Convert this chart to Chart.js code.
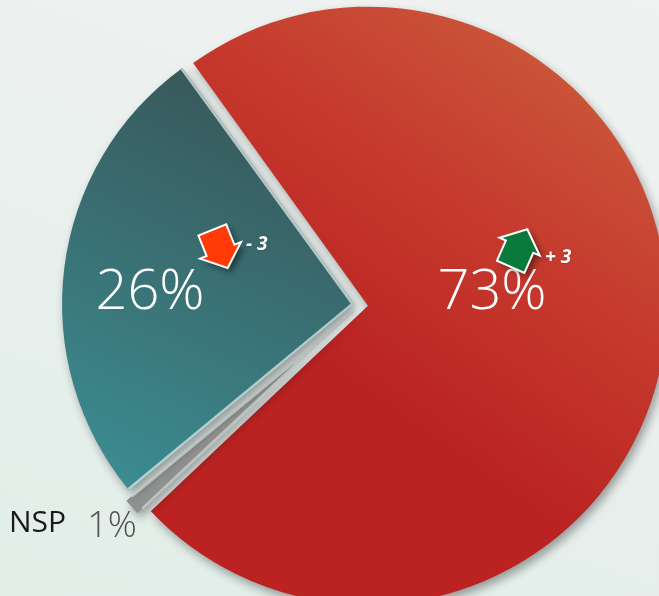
<!DOCTYPE html>
<html>
<head>
<meta charset="utf-8">
<script src="https://cdn.jsdelivr.net/npm/chart.js@4"></script>
<style>
html, body { margin: 0; padding: 0; width: 659px; height: 596px; overflow: hidden; }
body { background: linear-gradient(200deg, #f0f2f1 0%, #eaf0ee 45%, #e1eee8 100%); }
#wrap { position: relative; width: 659px; height: 596px; }
</style>
</head>
<body>
<div id="wrap"><canvas id="pie"></canvas></div>
<script>
// Data (clockwise from the top-left edge of the red slice)
const categories = ['Oui', 'NSP', 'Non'];
const shares = [73, 1, 26];
const changes = [3, 0, -3];

// Label / arrow anchors, relative to the pie centre
const labelAnchors = [
    { dx: 131, dy: -12, size: 56, color: '#ffffff' },
    { dx: -249, dy: 222, size: 36, color: '#505050' },
    { dx: -211, dy: -12, size: 56, color: '#ffffff' }
];
const arrowAnchors = [
    { dx: 158, dy: -57, rot: 24, color: '#0a7a3c', tx: 184, ty: -42 },
    null,
    { dx: -141, dy: -56, rot: 158, color: '#ff3a06', tx: -115, ty: -55 }
];

function sliceFill(context) {
    const ctx = context.chart.ctx;
    const i = context.dataIndex;
    if (i === 0) {
        const g = ctx.createLinearGradient(620, 60, 380, 400);
        g.addColorStop(0, '#cb5b3b');
        g.addColorStop(0.5, '#c63b2e');
        g.addColorStop(1, '#ba2322');
        return g;
    }
    if (i === 2) {
        const g = ctx.createLinearGradient(300, 80, 110, 470);
        g.addColorStop(0, '#385456');
        g.addColorStop(1, '#3b8b90');
        return g;
    }
    return '#8f9090';
}

function drawArrow(ctx, x, y, rot, color) {
    ctx.save();
    ctx.translate(x, y);
    ctx.rotate(rot * Math.PI / 180);
    ctx.beginPath();
    ctx.moveTo(0, -20.5);
    ctx.lineTo(22, -1.5);
    ctx.lineTo(15, -1.5);
    ctx.lineTo(15, 20.5);
    ctx.lineTo(-15, 20.5);
    ctx.lineTo(-15, -1.5);
    ctx.lineTo(-22, -1.5);
    ctx.closePath();
    ctx.shadowColor = 'rgba(0, 0, 0, 0.45)';
    ctx.shadowBlur = 6;
    ctx.shadowOffsetX = 4;
    ctx.shadowOffsetY = 4;
    ctx.fillStyle = color;
    ctx.fill();
    ctx.shadowColor = 'transparent';
    ctx.lineWidth = 2;
    ctx.strokeStyle = '#ffffff';
    ctx.stroke();
    ctx.restore();
}

// light bevel along the straight edges of a slice
function bevelEdges(ctx, arc, color) {
    const p = arc.getProps(['x', 'y', 'startAngle', 'endAngle', 'outerRadius']);
    const mid = (p.startAngle + p.endAngle) / 2;
    const off = (arc.options.offset || 0) / 4;
    const ox = p.x + Math.cos(mid) * off;
    const oy = p.y + Math.sin(mid) * off;
    ctx.save();
    ctx.beginPath();
    ctx.moveTo(ox, oy);
    ctx.arc(ox, oy, p.outerRadius, p.startAngle, p.endAngle);
    ctx.closePath();
    ctx.clip();
    ctx.strokeStyle = color;
    ctx.lineWidth = 5;
    ctx.lineJoin = 'miter';
    ctx.beginPath();
    ctx.moveTo(ox + Math.cos(p.startAngle) * p.outerRadius, oy + Math.sin(p.startAngle) * p.outerRadius);
    ctx.lineTo(ox, oy);
    ctx.lineTo(ox + Math.cos(p.endAngle) * p.outerRadius, oy + Math.sin(p.endAngle) * p.outerRadius);
    ctx.stroke();
    ctx.restore();
}

// Drop shadow under slices, then labels and arrows on top
const pieDecor = {
    id: 'pieDecor',
    beforeDatasetsDraw(chart) {
        const ctx = chart.ctx;
        ctx.save();
        ctx.shadowColor = 'rgba(0, 0, 0, 0.35)';
        ctx.shadowBlur = 10;
        ctx.shadowOffsetX = 3;
        ctx.shadowOffsetY = 5;
    },
    afterDatasetsDraw(chart) {
        const ctx = chart.ctx;
        ctx.restore();
        const arcs = chart.getDatasetMeta(0).data;
        const cx = arcs[0].x;
        const cy = arcs[0].y;

        bevelEdges(ctx, arcs[2], 'rgba(222, 234, 230, 0.75)');
        bevelEdges(ctx, arcs[1], 'rgba(200, 208, 205, 0.8)');

        ctx.save();
        ctx.textAlign = 'center';
        ctx.textBaseline = 'middle';
        shares.forEach((v, i) => {
            const a = labelAnchors[i];
            ctx.font = '300 ' + a.size + 'px "Open Sans", sans-serif';
            ctx.fillStyle = a.color;
            ctx.fillText(v + '%', cx + a.dx, cy + a.dy);
        });

        // category name for the small slice
        ctx.textAlign = 'left';
        ctx.textBaseline = 'alphabetic';
        ctx.font = '400 30px "Open Sans", sans-serif';
        ctx.fillStyle = '#1a1a1a';
        ctx.fillText(categories[1], 9, 532);

        changes.forEach((c, i) => {
            const a = arrowAnchors[i];
            if (!a || !c) return;
            drawArrow(ctx, cx + a.dx, cy + a.dy, a.rot, a.color);
            ctx.font = 'italic bold 19px "Open Sans", sans-serif';
            ctx.fillStyle = '#ffffff';
            ctx.shadowColor = 'rgba(0,0,0,0.3)';
            ctx.shadowBlur = 2;
            ctx.fillText((c > 0 ? '+ ' : '- ') + Math.abs(c), cx + a.tx, cy + a.ty);
            ctx.shadowColor = 'transparent';
        });
        ctx.restore();
    }
};

new Chart(document.getElementById('pie'), {
    type: 'pie',
    data: {
        labels: categories,
        datasets: [{
            data: shares,
            backgroundColor: sliceFill,
            borderWidth: 0,
            offset: 28
        }]
    },
    options: {
        responsive: true,
        maintainAspectRatio: false,
        animation: false,
        rotation: -36,
        radius: 292,
        layout: { padding: { left: 63, right: 0, top: 14, bottom: 0 } },
        plugins: {
            legend: { display: false },
            tooltip: { enabled: false }
        }
    },
    plugins: [pieDecor]
});
</script>
</body>
</html>
